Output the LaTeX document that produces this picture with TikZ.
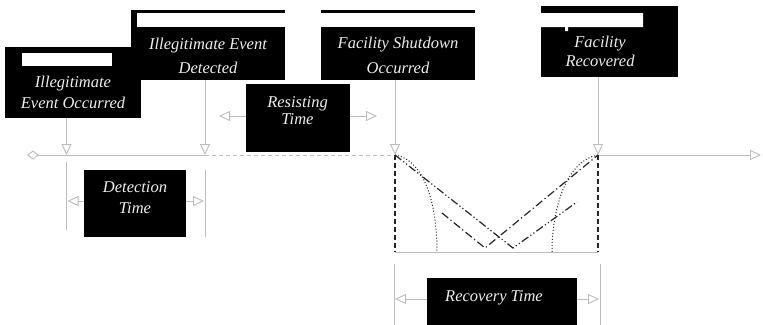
\documentclass[tikz,border=0pt]{standalone}
\usepackage{fontspec}
\setmainfont{Liberation Serif}
\usetikzlibrary{arrows.meta}
\definecolor{linegray}{HTML}{BDBDBD}
\definecolor{txtgray}{HTML}{EEEEEE}
\begin{document}
\begin{tikzpicture}[x=1pt,y=-1pt,
  blk/.style={fill=black, draw=none, inner sep=0pt, outer sep=0pt},
  lbl/.style={text=txtgray, font=\fontsize{16.5}{#1}\selectfont\itshape, align=center, inner sep=0pt},
  lbl/.default=21,
  guide/.style={draw=linegray, line width=0.9pt},
  arr/.style={guide, -{Triangle[open, length=11pt, width=10pt]}},
  dip/.style={draw=black!85, line width=1.2pt},
  dashdot/.style={dash pattern=on 8pt off 3pt on 1.2pt off 3pt},
  dashdotdot/.style={dash pattern=on 8pt off 2.5pt on 1.2pt off 2.5pt on 1.2pt off 2.5pt},
]
\useasboundingbox (0,0) rectangle (763,324);

% event boxes
\node[blk, minimum width=136pt, minimum height=71pt] (b1) at (73,82.5) {};
\fill[white] (22,53) rectangle (112,66);
\node[blk, minimum width=154pt, minimum height=70pt] (b2) at (208,45) {};
\fill[white] (137,13) rectangle (285,27);
\node[blk, minimum width=154pt, minimum height=53pt] (b3) at (398,53.5) {};
\fill[black] (321,10) rectangle (475,13);
\node[blk, minimum width=137pt, minimum height=71pt] (b4) at (609.5,41.5) {};
\fill[white] (541,13) rectangle (643,27) (565,26) rectangle (568,31);

\node[lbl] (t1) at (73,91.9) {Illegitimate\\Event Occurred};
\node[lbl=24] (t2) at (208,55.4) {Illegitimate Event\\Detected};
\node[lbl=25] (t3) at (398,54.9) {Facility Shutdown\\Occurred};
\node[lbl=19] (t4) at (600,50.9) {Facility\\Recovered};

% interval boxes
\node[blk, minimum width=104pt, minimum height=68pt] (r) at (298,118) {};
\node[lbl=17] (tr) at (297.5,110.9) {Resisting\\Time};
\node[blk, minimum width=102pt, minimum height=67pt] (d) at (135,203.5) {};
\node[lbl] (td) at (135,197.9) {Detection\\Time};
\node[blk, minimum width=150pt, minimum height=52pt] (rv) at (502,304) {};
\node[lbl] (tv) at (494,298.2) {Recovery Time};

% timeline
\coordinate (start) at (27,155);
\coordinate (p1) at (66.5,155);
\coordinate (p2) at (205,155);
\coordinate (p3) at (395,155);
\coordinate (p4) at (598,155);
\coordinate (end) at (761,155);
\draw[guide, {Diamond[open, length=12pt, width=9pt]}-] (start) -- (p2);
\draw[guide, dash pattern=on 4pt off 3pt] (p2) -- (p3);
\draw[arr] (p4) -- (end);

% event arrows
\draw[arr] (p1 |- b1.south) -- (p1);
\draw[arr] (p2 |- b2.south) -- (p2);
\draw[arr] (p3 |- b3.south) -- (p3);
\draw[arr] (p4 |- b4.south) -- (p4);

% resisting time
\coordinate (rl) at (219,116);
\coordinate (rr) at (377,116);
\draw[arr] (rl -| r.west) -- (rl);
\draw[arr] (rr -| r.east) -- (rr);

% detection time
\coordinate (dlt) at (66.5,162);
\coordinate (dlb) at (66.5,230);
\coordinate (drt) at (205,170);
\coordinate (drb) at (205,237);
\draw[guide] (dlt) -- (dlb);
\draw[guide] (drt) -- (drb);
\coordinate (dal) at (67.5,201);
\coordinate (dar) at (204,201);
\draw[arr] (dal -| d.west) -- (dal);
\draw[arr] (dar -| d.east) -- (dar);

% recovery time
\coordinate (vlt) at (394,264);
\coordinate (vlb) at (394,330);
\coordinate (vrt) at (600,264);
\coordinate (vrb) at (600,330);
\draw[guide] (vlt) -- (vlb);
\draw[guide] (vrt) -- (vrb);
\coordinate (ral) at (395,299);
\coordinate (rar) at (599,299);
\draw[arr] (ral -| rv.west) -- (ral);
\draw[arr] (rar -| rv.east) -- (rar);

% recovery profiles
\coordinate (q0) at (395,252);
\coordinate (q1) at (598,252);
\draw[guide] (q0) -- (q1);
\draw[dip, dash pattern=on 5pt off 3pt] (p3) -- (q0);
\draw[dip, dash pattern=on 5pt off 3pt] (p4) -- (q1);
\coordinate (c0) at (437,252);
\coordinate (c1) at (552,252);
\draw[dip, line width=1pt, dotted] (p3) .. controls (425,160) and (437,205) .. (c0);
\draw[dip, line width=1pt, dotted] (p4) .. controls (568,160) and (552,205) .. (c1);
\coordinate (vb1) at (513,248);
\coordinate (vb2) at (577,202);
\draw[dip, dashdotdot] (p3) -- (vb1) -- (vb2);
\coordinate (va0) at (442,213);
\coordinate (va1) at (485,248);
\draw[dip, dashdot] (va0) -- (va1) -- (p4);
\end{tikzpicture}
\end{document}
